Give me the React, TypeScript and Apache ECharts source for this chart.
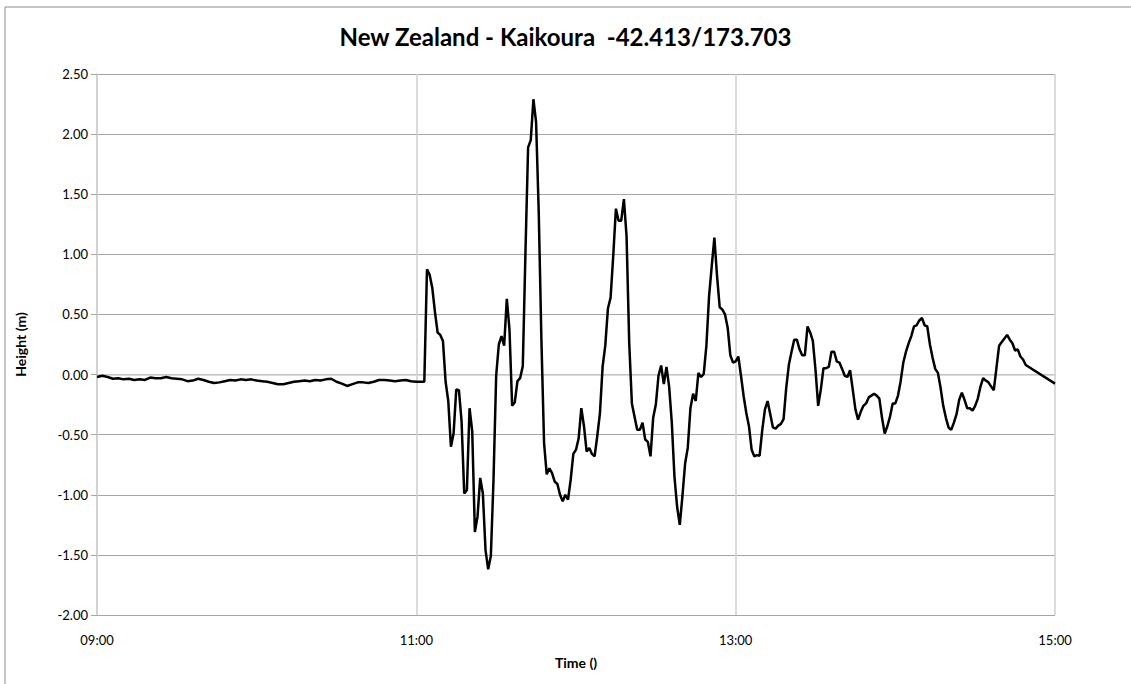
import React, { useEffect, useRef } from "react";
import * as echarts from "echarts";

// minutes after 09:00
const calmMinutes = [0, 2, 4, 6, 8, 10, 12, 14, 16, 18, 20, 22, 24, 26, 28, 30, 32, 34, 36, 38, 40, 42, 44, 46, 48, 50, 52, 54, 56, 58, 60, 62, 64, 66, 68, 70, 72, 74, 76, 78, 80, 82, 84, 86, 88, 90, 92, 94, 96, 98, 100, 102, 104, 106, 108, 110, 112, 114, 116, 118, 120, 122, 123];
const calmHeights = [-0.02, -0.01, -0.02, -0.035, -0.03, -0.04, -0.035, -0.045, -0.04, -0.045, -0.025, -0.03, -0.03, -0.02, -0.03, -0.035, -0.04, -0.055, -0.05, -0.035, -0.045, -0.06, -0.07, -0.065, -0.055, -0.045, -0.05, -0.04, -0.045, -0.04, -0.05, -0.055, -0.06, -0.07, -0.08, -0.08, -0.07, -0.06, -0.055, -0.05, -0.055, -0.045, -0.05, -0.04, -0.035, -0.06, -0.075, -0.095, -0.08, -0.065, -0.065, -0.07, -0.06, -0.045, -0.045, -0.05, -0.055, -0.05, -0.045, -0.055, -0.06, -0.06, -0.06];

// one reading per minute from 124 to 349, then 360
const activeStart = 124;
const activeHeights = [
  0.875, 0.83, 0.72, 0.52, 0.35, 0.33, 0.28, -0.06, -0.22, -0.6,
  -0.49, -0.125, -0.13, -0.39, -0.99, -0.96, -0.28, -0.47, -1.31, -1.18,
  -0.86, -0.99, -1.46, -1.62, -1.51, -0.875, -0.01, 0.25, 0.32, 0.24,
  0.63, 0.375, -0.26, -0.23, -0.055, -0.03, 0.07, 1.01, 1.89, 1.95,
  2.29, 2.1, 1.35, 0.29, -0.57, -0.83, -0.78, -0.82, -0.89, -0.91,
  -1.0, -1.055, -1.0, -1.04, -0.875, -0.66, -0.625, -0.53, -0.28, -0.43,
  -0.64, -0.61, -0.66, -0.68, -0.51, -0.32, 0.065, 0.24, 0.55, 0.64,
  0.99, 1.38, 1.28, 1.28, 1.46, 1.15, 0.26, -0.24, -0.35, -0.46,
  -0.46, -0.4, -0.54, -0.56, -0.68, -0.36, -0.25, -0.01, 0.075, -0.08,
  0.064, -0.1, -0.4, -0.85, -1.1, -1.25, -1.01, -0.74, -0.61, -0.28,
  -0.16, -0.22, 0.014, -0.02, 0.005, 0.24, 0.65, 0.9, 1.14, 0.82,
  0.56, 0.54, 0.5, 0.39, 0.16, 0.1, 0.11, 0.15, -0.01, -0.18,
  -0.32, -0.43, -0.625, -0.68, -0.67, -0.675, -0.46, -0.29, -0.22, -0.33,
  -0.44, -0.45, -0.425, -0.41, -0.37, -0.11, 0.083, 0.19, 0.29, 0.29,
  0.21, 0.16, 0.16, 0.4, 0.35, 0.28, 0.04, -0.26, -0.125, 0.053,
  0.053, 0.064, 0.19, 0.19, 0.11, 0.1, 0.047, -0.01, -0.02, 0.036,
  -0.125, -0.29, -0.375, -0.31, -0.26, -0.24, -0.19, -0.175, -0.16, -0.175,
  -0.2, -0.36, -0.49, -0.43, -0.35, -0.24, -0.24, -0.175, -0.055, 0.1,
  0.19, 0.26, 0.32, 0.4, 0.41, 0.45, 0.47, 0.41, 0.4, 0.25,
  0.14, 0.047, 0.014, -0.11, -0.26, -0.36, -0.44, -0.46, -0.4, -0.33,
  -0.21, -0.15, -0.21, -0.28, -0.28, -0.3, -0.26, -0.2, -0.1, -0.03,
  -0.05, -0.065, -0.1, -0.13, 0.056, 0.24, 0.27, 0.3, 0.33, 0.29,
  0.26, 0.2, 0.21, 0.15, 0.125, 0.08
];
const endMinute = 360;
const endHeight = -0.075;

const TITLE = "New Zealand - Kaikoura  -42.413/173.703";
const X_NAME = "Time ()";
const Y_NAME = "Height (m)";

const FONT = "Lato, 'Open Sans', sans-serif";

function fmtTime(m: number) {
  const h = 9 + Math.floor(m / 60);
  const mm = m % 60;
  return (h < 10 ? "0" : "") + h + ":" + (mm < 10 ? "0" : "") + mm;
}

export default function App() {
  const ref = useRef<HTMLDivElement>(null);
  useEffect(() => {
    document.body.style.margin = "0";
    if (!ref.current) return;
    const chart = echarts.init(ref.current, null, { renderer: "svg" });
    const data: [number, number][] = [];
    calmMinutes.forEach((m, i) => data.push([m, calmHeights[i]]));
    activeHeights.forEach((v, i) => data.push([activeStart + i, v]));
    data.push([endMinute, endHeight]);
    chart.setOption({
      animation: false,
      backgroundColor: "#ffffff",
      title: {
        text: TITLE,
        left: "center",
        top: 19,
        textStyle: { fontFamily: FONT, fontSize: 24, fontWeight: "bold", color: "#000" },
      },
      graphic: [
        {
          type: "rect",
          shape: { x: 5, y: 7, width: 1140, height: 700 },
          style: { fill: "none", stroke: "#8c8c8c", lineWidth: 1 },
          silent: true,
        },
      ],
      grid: { left: 97, right: 76, top: 74, bottom: 69, containLabel: false },
      xAxis: {
        type: "value",
        min: 0,
        max: 360,
        interval: 120,
        name: X_NAME,
        nameLocation: "middle",
        nameGap: 40,
        nameTextStyle: { fontFamily: FONT, fontSize: 14, fontWeight: "bold", color: "#000" },
        axisLine: { show: true, lineStyle: { color: "#cfcfcf", width: 1.5 } },
        axisTick: { show: false },
        axisLabel: {
          fontFamily: FONT,
          fontSize: 13,
          color: "#000",
          margin: 18,
          formatter: (v: number) => fmtTime(v),
        },
        splitLine: { show: true, lineStyle: { color: "#cfcfcf", width: 1.5 } },
      },
      yAxis: {
        type: "value",
        min: -2,
        max: 2.5,
        interval: 0.5,
        name: Y_NAME,
        nameLocation: "middle",
        nameGap: 70,
        nameTextStyle: { fontFamily: FONT, fontSize: 14, fontWeight: "bold", color: "#000" },
        axisLine: { show: true, lineStyle: { color: "#cfcfcf", width: 1.5 } },
        axisTick: { show: true, length: 6, lineStyle: { color: "#a6a6a6" } },
        axisLabel: {
          fontFamily: FONT,
          fontSize: 13,
          color: "#000",
          margin: 9,
          formatter: (v: number) => v.toFixed(2),
        },
        splitLine: { show: true, lineStyle: { color: "#a6a6a6", width: 1 } },
      },
      series: [
        {
          type: "line",
          data,
          showSymbol: false,
          symbol: "none",
          lineStyle: { color: "#000", width: 2.5 },
        },
      ],
    });
    return () => chart.dispose();
  }, []);
  return <div ref={ref} style={{ width: 1131, height: 684 }} />;
}
